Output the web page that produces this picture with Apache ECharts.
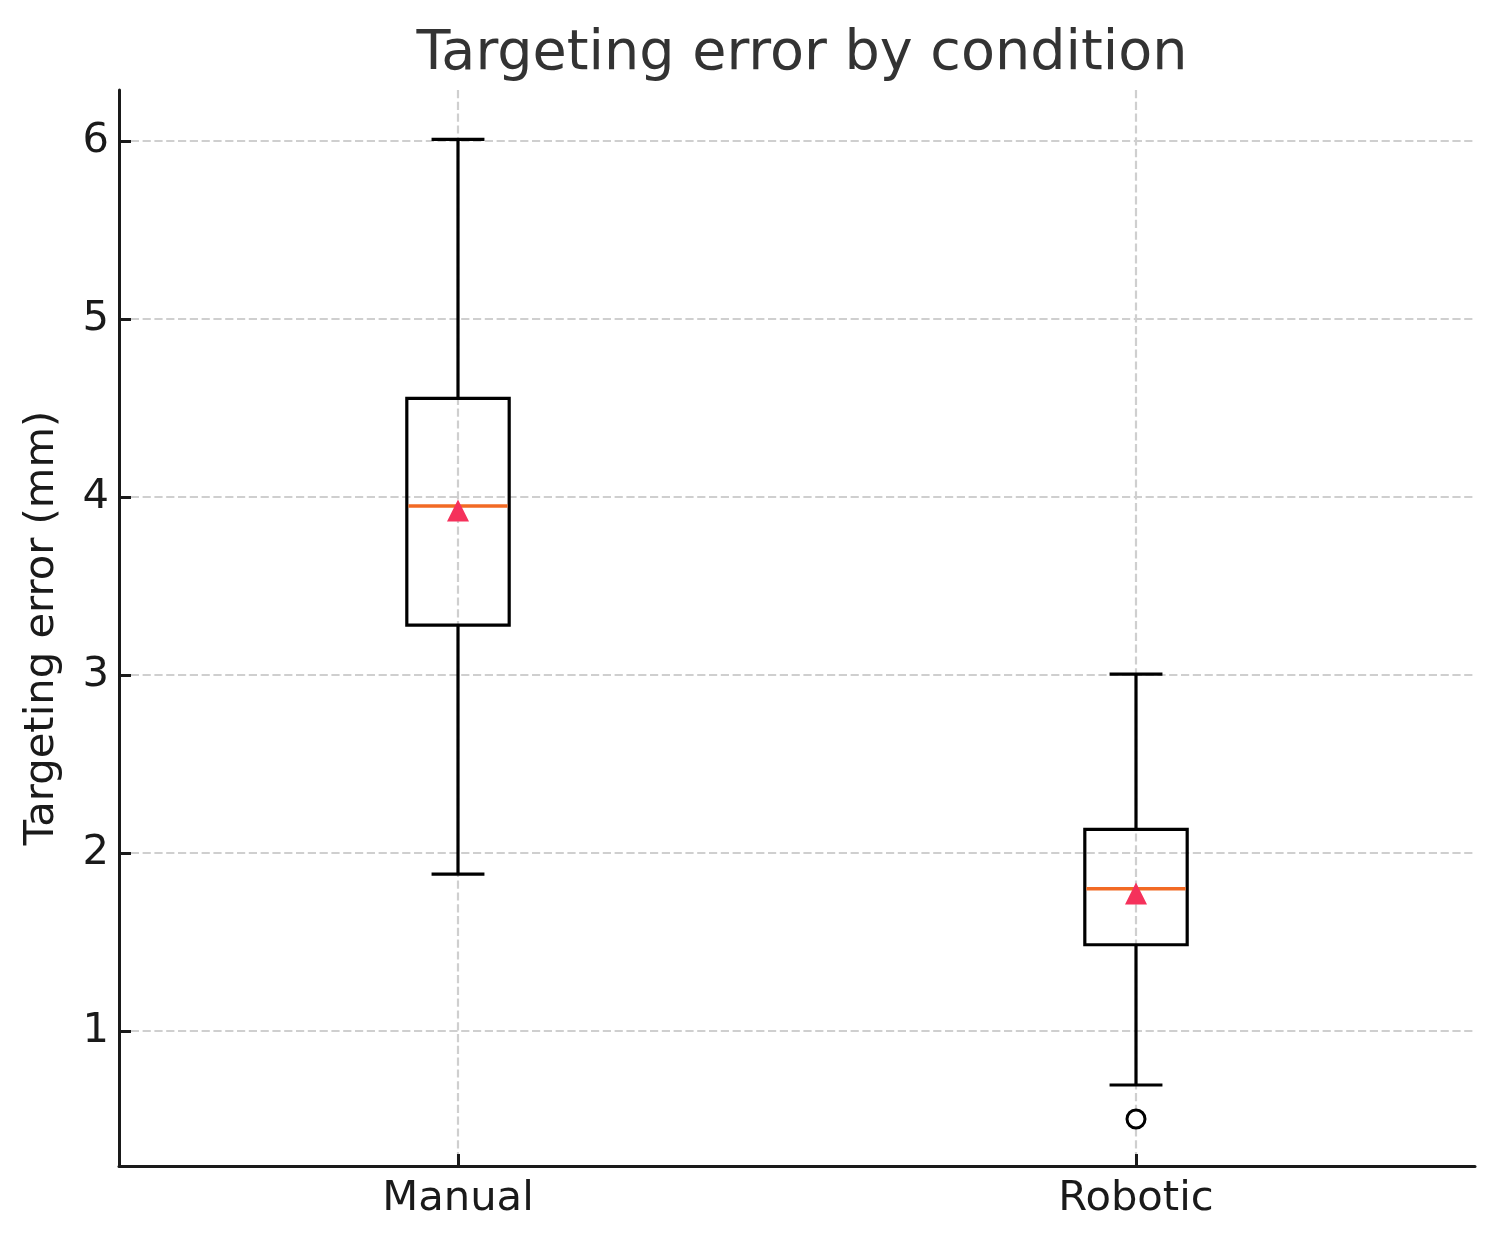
<!DOCTYPE html>
<html>
<head>
<meta charset="utf-8">
<script src="https://cdn.jsdelivr.net/npm/echarts@6/dist/echarts.min.js"></script>
<style>
  html, body { margin: 0; padding: 0; background: #fff; }
  #chart { width: 1500px; height: 1250px; }
</style>
</head>
<body>
<div id="chart"></div>
<script>
// ---- data ----
const categories = ['Manual', 'Robotic'];
const whiskerLow = [1.882, 0.697];
const q1 = [3.281, 1.485];
const median = [3.95, 1.80];
const q3 = [4.554, 2.133];
const whiskerHigh = [6.01, 3.005];
const means = [3.924, 1.773];
const outlierCats = ['Robotic'];
const outlierVals = [0.506];
const yMin = 0.242;
const yMax = 6.287;

const boxData = categories.map((c, i) => [i, whiskerLow[i], q1[i], median[i], q3[i], whiskerHigh[i]]);
const meanData = categories.map((c, i) => [c, means[i]]);
const outlierData = outlierCats.map((c, i) => [c, outlierVals[i]]);

const BLACK = '#000';
const MEDIAN = '#F26A24';
const MEAN = '#F5315B';

const chart = echarts.init(document.getElementById('chart'), null, { renderer: 'canvas' });

function renderBox(params, api) {
  const x = api.value(0);
  const lo = api.coord([x, api.value(1)]);
  const b1 = api.coord([x, api.value(2)]);
  const md = api.coord([x, api.value(3)]);
  const b3 = api.coord([x, api.value(4)]);
  const hi = api.coord([x, api.value(5)]);
  const band = api.size([1, 0])[0];
  const bw = band * 0.151;
  const cw = band * 0.078;
  const cx = lo[0];
  const lineStyle = { stroke: BLACK, lineWidth: 3.2, fill: null };
  return {
    type: 'group',
    children: [
      { type: 'line', shape: { x1: cx, y1: lo[1], x2: cx, y2: b1[1] }, style: lineStyle },
      { type: 'line', shape: { x1: cx, y1: b3[1], x2: cx, y2: hi[1] }, style: lineStyle },
      { type: 'line', shape: { x1: cx - cw / 2, y1: lo[1], x2: cx + cw / 2, y2: lo[1] }, style: lineStyle },
      { type: 'line', shape: { x1: cx - cw / 2, y1: hi[1], x2: cx + cw / 2, y2: hi[1] }, style: lineStyle },
      { type: 'rect', shape: { x: cx - bw / 2, y: b3[1], width: bw, height: b1[1] - b3[1] },
        style: { stroke: BLACK, lineWidth: 3.2, fill: 'rgba(0,0,0,0)' } },
      { type: 'line', shape: { x1: cx - bw / 2 + 1.6, y1: md[1], x2: cx + bw / 2 - 1.6, y2: md[1] },
        style: { stroke: MEDIAN, lineWidth: 3.4 } }
    ]
  };
}

const option = {
  backgroundColor: '#ffffff',
  animation: false,
  title: {
    text: 'Targeting error by condition',
    left: 797,
    textAlign: 'center',
    top: 22,
    textStyle: { fontFamily: 'DejaVu Sans', fontSize: 55.6, fontWeight: 'normal', color: '#333333' }
  },
  grid: { left: 119, right: 25, top: 90, bottom: 84, containLabel: false, outerBoundsMode: 'none' },
  xAxis: {
    type: 'category',
    data: categories,
    boundaryGap: true,
    axisLine: { show: true, lineStyle: { color: '#1a1a1a', width: 3 } },
    axisTick: { show: true, inside: true, length: 12, alignWithLabel: true, lineStyle: { color: '#1a1a1a', width: 3 } },
    axisLabel: { fontFamily: 'DejaVu Sans', fontSize: 41.7, color: '#1a1a1a', margin: 12 },
    splitLine: { show: true, alignWithLabel: true, lineStyle: { color: '#cfcfcf', width: 2.2, type: [8.2, 3.6] } }
  },
  yAxis: {
    type: 'value',
    min: yMin,
    max: yMax,
    splitNumber: 5,
    name: 'Targeting error (mm)',
    nameLocation: 'middle',
    nameGap: 56,
    nameTextStyle: { fontFamily: 'DejaVu Sans', fontSize: 41.7, color: '#1a1a1a' },
    axisLine: { show: true, lineStyle: { color: '#1a1a1a', width: 3 } },
    axisTick: { show: true, inside: true, length: 12, lineStyle: { color: '#1a1a1a', width: 3 } },
    axisLabel: { fontFamily: 'DejaVu Sans', fontSize: 41.7, color: '#1a1a1a', margin: 10, showMinLabel: false, showMaxLabel: false },
    splitLine: { show: true, showMinLine: false, showMaxLine: false, lineStyle: { color: '#cfcfcf', width: 2.2, type: [8.2, 3.6] } }
  },
  series: [
    {
      type: 'custom',
      renderItem: renderBox,
      data: boxData,
      encode: { x: 0, y: [1, 2, 3, 4, 5] },
      z: 3
    },
    {
      type: 'scatter',
      data: meanData,
      symbol: 'triangle',
      symbolSize: 22,
      itemStyle: { color: MEAN, opacity: 1 },
      z: 5
    },
    {
      type: 'scatter',
      data: outlierData,
      symbol: 'circle',
      symbolSize: 18,
      itemStyle: { color: '#ffffff', borderColor: BLACK, borderWidth: 3, opacity: 1 },
      z: 5
    }
  ]
};

chart.setOption(option);
</script>
</body>
</html>
